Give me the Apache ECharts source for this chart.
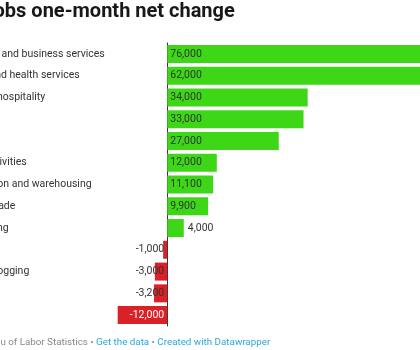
<!DOCTYPE html>
<html>
<head>
<meta charset="utf-8">
<script src="https://cdn.jsdelivr.net/npm/echarts@6/dist/echarts.min.js"></script>
<style>
html,body{margin:0;padding:0;background:#fff;}
#chart{width:420px;height:350px;}
</style>
</head>
<body>
<div id="chart"></div>
<script>
const titleText = 'Jobs one-month net change';
const categories = [
  'Professional and business services',
  'Education and health services',
  'Leisure and hospitality',
  'Government',
  'Retail trade',
  'Financial activities',
  'Transportation and warehousing',
  'Wholesale trade',
  'Manufacturing',
  'Information',
  'Mining and logging',
  'Utilities',
  'Construction'
];
const values = [76000, 62000, 34000, 33000, 27000, 12000, 11100, 9900, 4000, -1000, -3000, -3200, -12000];
const sourceText = 'Source: Bureau of Labor Statistics';
const linkTexts = ['Get the data', 'Created with Datawrapper'];

const GREEN = '#3dd718';
const RED = '#da2128';
const FONT = 'Roboto, "Noto Sans", sans-serif';

const fmt = v => (v < 0 ? '-' : '') + Math.abs(v).toLocaleString('en-US');

const data = values.map(v => {
  let label;
  if (v >= 0) {
    label = v >= 8000
      ? { position: 'insideLeft', distance: 3, color: '#333' }
      : { position: 'right', distance: 4, color: '#333' };
  } else {
    label = { position: 'insideRight', distance: 3, color: v <= -8000 ? '#fff' : '#333' };
  }
  return { value: v, itemStyle: { color: v >= 0 ? GREEN : RED }, label };
});

const chart = echarts.init(document.getElementById('chart'), null, { renderer: 'canvas' });
chart.setOption({
  animation: false,
  backgroundColor: '#fff',
  grid: { left: 117.7, top: 43, width: 363.4, height: 283, containLabel: false, outerBoundsMode: 'none' },
  xAxis: {
    type: 'value', min: -12000, max: 76000, show: false
  },
  yAxis: {
    type: 'category',
    data: categories,
    inverse: true,
    axisLine: { show: true, onZero: true, lineStyle: { color: '#333', width: 1 } },
    axisTick: { show: false },
    axisLabel: {
      align: 'left', margin: 177.4, fontSize: 10.5, color: '#333', fontFamily: FONT
    }
  },
  series: [{
    type: 'bar',
    data: data,
    barWidth: 18,
    label: {
      show: true, fontSize: 10.5, fontFamily: FONT,
      formatter: p => fmt(p.value)
    }
  }],
  graphic: [
    {
      type: 'text', left: -17.6, top: 2,
      style: { text: titleText, font: 'bold 20px ' + FONT, fill: '#181818' }
    },
    {
      type: 'text', left: -60, top: 338,
      style: {
        text: '{s|' + sourceText + ' • }{l|' + linkTexts[0] + '}{s| • }{l|' + linkTexts[1] + '}',
        font: '9.8px ' + FONT,
        rich: {
          s: { fill: '#888', fontSize: 9.8, fontFamily: FONT },
          l: { fill: '#2aa8dc', fontSize: 9.8, fontFamily: FONT }
        }
      }
    }
  ]
});
</script>
</body>
</html>
